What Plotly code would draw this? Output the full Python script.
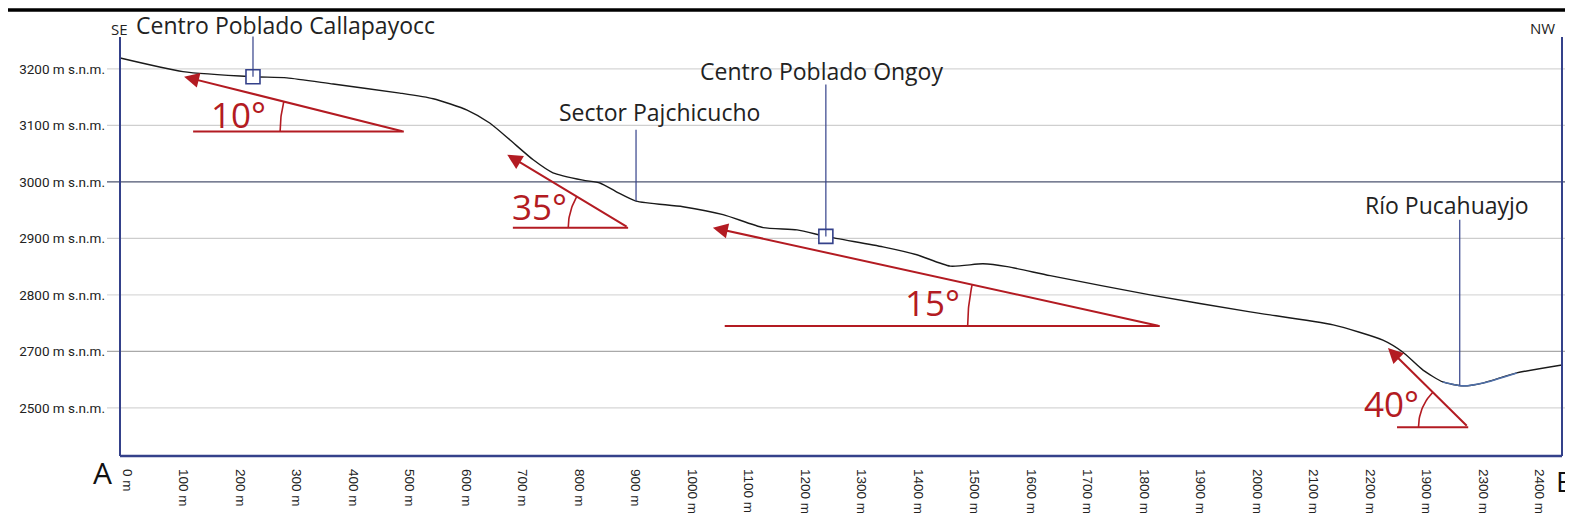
import numpy as np
import plotly.graph_objects as go

# ---------------- data ----------------
distance_m = [-12, 99, 223, 283, 365, 483, 542, 602, 642, 678, 719, 754, 807, 837,
              867, 901, 984, 1055, 1126, 1186, 1239, 1338, 1398, 1457, 1515, 1558,
              1634, 1811, 1988, 2135, 2223, 2258, 2294, 2329, 2365, 2400, 2460, 2540]
elevation_m = [3219, 3195, 3186, 3184, 3173, 3157, 3147, 3127, 3104, 3074, 3039, 3016,
               3003, 2998, 2982, 2966, 2956, 2942, 2919, 2915, 2903, 2885, 2871, 2851,
               2855, 2850, 2834, 2800, 2770, 2747, 2720, 2699, 2667, 2646, 2639, 2644,
               2662, 2676]

y_tick_vals = [3200, 3100, 3000, 2900, 2800, 2700, 2600]
y_tick_text = ["3200 m s.n.m.", "3100 m s.n.m.", "3000 m s.n.m.", "2900 m s.n.m.",
               "2800 m s.n.m.", "2700 m s.n.m.", "2500 m s.n.m."]

x_tick_vals = list(range(0, 2600, 100))
x_tick_text = ["0 m", "100 m", "200 m", "300 m", "400 m", "500 m", "600 m", "700 m",
               "800 m", "900 m", "1000 m", "1100 m", "1200 m", "1300 m", "1400 m",
               "1500 m", "1600 m", "1700 m", "1800 m", "1900 m", "2000 m", "2100 m",
               "2200 m", "1900 m", "2300 m", "2400 m"]

# landmarks along the profile
lm_names = ["Centro Poblado Callapayocc", "Sector Pajchicucho", "Centro Poblado Ongoy", "Río Pucahuayjo"]
lm_dist = [223, 901, 1237, 2359]
lm_label_x = [281, 943, 1230, 2336]
lm_label_y = [3278, 3124, 3196, 2959]
lm_line_top = [3257, 3092, 3172, 2933]
lm_square = [True, False, True, False]

# slope annotations
slope_labels = ["10°", "35°", "15°", "40°"]
tip_x = [101, 673, 1037, 2232]
tip_y = [3186, 3048, 2919, 2706]
vertex_x = [490, 887, 1828, 2374]
vertex_y = [3089, 2919, 2745, 2566]
base_x0 = [117, 683, 1058, 2248]
arc_r = [219, 106, 340, 88]
slope_text_x = [197, 731, 1425, 2239]
slope_text_y = [3119, 2956, 2786, 2607]

# ---------------- styling ----------------
NAVY = "#34418a"
RED = "#b31b22"
W, H = 1573, 525          # browser window
OFF = 8                   # default body margin of the html page
PL, PR, PT, PB = 120, 1562, 10, 456   # plot area in window pixels
PW, PH = PR - PL, PB - PT


def px(x):
    return (x - PL) / PW


def py(y):
    return (PB - y) / PH


fig = go.Figure()

# gridlines (extend beyond the plot frame like the reference)
grid_colors = ["#d6d6d6", "#cfcfcf", "#4d5470", "#cdcdcd", "#dadada", "#a9a9a9", "#d6d6d6"]
for v, c in zip(y_tick_vals, grid_colors):
    fig.add_shape(type="line", xref="paper", yref="y", x0=px(107), x1=px(W), y0=v, y1=v,
                  line=dict(color=c, width=1.3), layer="below")

# profile line
fig.add_trace(go.Scatter(x=distance_m, y=elevation_m, mode="lines",
                         line=dict(color="#1a1a1a", width=1.4, shape="spline", smoothing=0.6),
                         hoverinfo="skip", showlegend=False))
d = np.array(distance_m)
e = np.array(elevation_m)
mask = (d >= 2329) & (d <= 2460)
fig.add_trace(go.Scatter(x=d[mask], y=e[mask], mode="lines",
                         line=dict(color="#4f6fa8", width=1.6, shape="spline", smoothing=0.6),
                         hoverinfo="skip", showlegend=False))

# landmarks
lm_elev = np.interp(lm_dist, distance_m, elevation_m)
for name, xd, ye, lx, ly, top, sq in zip(lm_names, lm_dist, lm_elev, lm_label_x,
                                         lm_label_y, lm_line_top, lm_square):
    fig.add_shape(type="line", x0=xd, x1=xd, y0=top, y1=ye, line=dict(color=NAVY, width=1.2))
    fig.add_annotation(x=lx, y=ly, text=name, showarrow=False, xanchor="center", yanchor="middle",
                       font=dict(family="Open Sans", size=23, color="#222222"))
sq_x = [x for x, s in zip(lm_dist, lm_square) if s]
sq_y = [y for y, s in zip(lm_elev, lm_square) if s]
fig.add_trace(go.Scatter(x=sq_x, y=sq_y, mode="markers",
                         marker=dict(symbol="square", size=14, color="white",
                                     line=dict(color=NAVY, width=1.6)),
                         hoverinfo="skip", showlegend=False))

# slope triangles
for lab, tx, ty, vx, vy, bx, r, sx, sy in zip(slope_labels, tip_x, tip_y, vertex_x, vertex_y,
                                              base_x0, arc_r, slope_text_x, slope_text_y):
    fig.add_shape(type="line", x0=bx, x1=vx, y0=vy, y1=vy, line=dict(color=RED, width=2))
    fig.add_annotation(x=tx, y=ty, ax=vx, ay=vy, axref="x", ayref="y", text="",
                       showarrow=True, arrowhead=2, arrowsize=1.5, arrowwidth=2, arrowcolor=RED)
    theta = np.arctan2(ty - vy, vx - tx)
    t = np.linspace(0, theta, 20)
    fig.add_trace(go.Scatter(x=vx - r * np.cos(t), y=vy + r * np.sin(t), mode="lines",
                             line=dict(color=RED, width=1.6), hoverinfo="skip", showlegend=False))
    fig.add_annotation(x=sx, y=sy, text=lab, showarrow=False, xanchor="center", yanchor="middle",
                       font=dict(family="Open Sans", size=35, color=RED))

# frame lines
fig.add_shape(type="line", xref="paper", yref="paper", x0=0, x1=0, y0=py(37), y1=0,
              line=dict(color=NAVY, width=2))
fig.add_shape(type="line", xref="paper", yref="paper", x0=0, x1=1, y0=0, y1=0,
              line=dict(color=NAVY, width=2.5))
fig.add_shape(type="line", xref="paper", yref="paper", x0=1, x1=1, y0=py(37), y1=0,
              line=dict(color=NAVY, width=2))
fig.add_shape(type="line", xref="paper", yref="paper", x0=px(1569), x1=px(1569), y0=py(36), y1=py(228),
              line=dict(color=NAVY, width=1.5))
fig.add_shape(type="line", xref="paper", yref="paper", x0=px(1569), x1=px(W), y0=py(228), y1=py(228),
              line=dict(color=NAVY, width=1.5))
fig.add_shape(type="line", xref="paper", yref="paper", x0=px(OFF), x1=px(W), y0=py(10), y1=py(10),
              line=dict(color="black", width=3.5))

# corner labels
corner = dict(xref="paper", yref="paper", showarrow=False, xanchor="center", yanchor="middle")
fig.add_annotation(x=px(119), y=py(29), text="SE",
                   font=dict(family="Open Sans", size=15, color="#222222"), **corner)
fig.add_annotation(x=px(1542), y=py(28), text="NW",
                   font=dict(family="Open Sans", size=15, color="#222222"), **corner)
fig.add_annotation(x=px(102), y=py(472), text="A",
                   font=dict(family="Open Sans", size=30, color="#111111"), **corner)
fig.add_annotation(x=px(1565), y=py(481), text="B",
                   font=dict(family="Open Sans", size=28, color="#111111"), **corner)

fig.update_layout(
    width=W - OFF, height=H - OFF, autosize=False,
    margin=dict(l=PL - OFF, r=W - PR, t=PT - OFF, b=H - PB),
    plot_bgcolor="white", paper_bgcolor="white",
    xaxis=dict(range=[-12.4, 2540], tickvals=x_tick_vals, ticktext=x_tick_text, tickangle=90,
               showgrid=False, zeroline=False, showline=False, ticks="", ticklabelstandoff=12,
               tickfont=dict(family="Liberation Sans", size=13.5, color="#222222")),
    yaxis=dict(range=[2515, 3304], tickvals=y_tick_vals, ticktext=y_tick_text,
               showgrid=False, zeroline=False, showline=False, ticks="", ticklabelstandoff=14,
               tickfont=dict(family="Roboto", size=13.5, color="#222222")),
)

fig.write_html("out.html", config={"displayModeBar": False})
